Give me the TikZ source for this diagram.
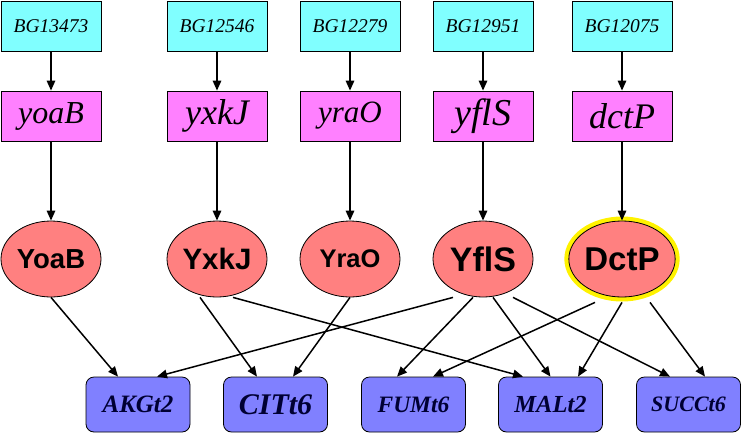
\documentclass[tikz,border=0pt]{standalone}
\usepackage{fontspec}
\setmainfont{Liberation Serif}
\setsansfont{Liberation Sans}
\usetikzlibrary{arrows.meta,shapes.geometric}
\definecolor{cy}{HTML}{80FFFF}
\definecolor{mg}{HTML}{FF80FF}
\definecolor{sa}{HTML}{FF8080}
\definecolor{bl}{HTML}{8080FF}
\definecolor{tx}{HTML}{000033}
\newcommand{\fs}[1]{\fontsize{#1}{#1}\selectfont}
\tikzset{
  bgbox/.style={draw=black, line width=0.8pt, fill=cy, minimum width=100pt, minimum height=50pt, inner sep=0pt, font=\fs{19.5}\itshape},
  genebox/.style={draw=black, line width=0.8pt, fill=mg, minimum width=100pt, minimum height=50pt, inner sep=0pt},
  prot/.style={ellipse, draw=black, line width=0.8pt, fill=sa, minimum width=100pt, minimum height=76pt, inner sep=0pt},
  rxn/.style={draw=black, line width=0.8pt, fill=bl, rounded corners=8pt, minimum width=104pt, minimum height=55pt, inner sep=0pt, text=tx},
  edge/.style={line width=1.5pt, -{Triangle[length=10pt,width=8.5pt]}},
}
\begin{document}
\begin{tikzpicture}[x=1pt,y=-1pt]
\useasboundingbox (0,0) rectangle (743,434);
% top boxes
\node[bgbox] (bg1) at (51,26) {BG13473};
\node[bgbox] (bg2) at (217,26) {BG12546};
\node[bgbox] (bg3) at (350,26) {BG12279};
\node[bgbox] (bg4) at (483,26) {BG12951};
\node[bgbox] (bg5) at (622,26) {BG12075};
% gene boxes
\node[genebox, font=\fs{32}\itshape] (g1) at (51,116) {yoaB};
\node[genebox, font=\fs{36}\itshape] (g2) at (217,116) {yxkJ};
\node[genebox, font=\fs{31}\itshape] (g3) at (350,116) {yraO};
\node[genebox, font=\fs{38}\itshape] (g4) at (483,116) {yflS};
\node[genebox, font=\fs{36}\itshape] (g5) at (622,116) {dctP};
% proteins
\node[prot, font=\fs{27.5}\sffamily\bfseries] (p1) at (51,259) {YoaB};
\node[prot, font=\fs{29.5}\sffamily\bfseries] (p2) at (217,259) {YxkJ};
\node[prot, font=\fs{25.5}\sffamily\bfseries] (p3) at (350,259) {YraO};
\node[prot, font=\fs{34}\sffamily\bfseries] (p4) at (483,259) {YflS};
\node[prot, font=\fs{33}\sffamily\bfseries, preaction={draw=yellow, line width=9pt}] (p5) at (622,259) {DctP};
% reactions
\node[rxn, font=\fs{25}\bfseries\itshape] (r1) at (138,404.5) {AKGt2};
\node[rxn, font=\fs{30}\bfseries\itshape] (r2) at (275.5,404.5) {CITt6};
\node[rxn, font=\fs{23.5}\bfseries\itshape] (r3) at (413.5,404.5) {FUMt6};
\node[rxn, font=\fs{24.5}\bfseries\itshape] (r4) at (550.5,404.5) {MALt2};
\node[rxn, font=\fs{22}\bfseries\itshape] (r5) at (688.5,404.5) {SUCCt6};
% vertical edges
\foreach \i in {1,...,5}{
  \draw[edge] (bg\i.south) -- (g\i.north);
  \draw[edge] (g\i.south) -- (p\i.north);
}
% lower edges
\draw[edge] (p1.south) -- ([xshift=-20pt]r1.north);
\draw[edge] ([xshift=-17pt]p2.south) -- ([xshift=-18.5pt]r2.north);
\draw[edge] ([xshift=16pt]p2.south) -- ([xshift=-27.5pt]r4.north);
\draw[edge] (p3.south) -- ([xshift=17.5pt]r2.north);
\draw[edge] ([xshift=-30pt]p4.south) -- ([xshift=19pt]r1.north);
\draw[edge] ([xshift=-10pt]p4.south) -- ([xshift=-16.5pt]r3.north);
\draw[edge] ([xshift=10pt]p4.south) -- (r4.north);
\draw[edge] ([xshift=30pt]p4.south) -- ([xshift=-18.5pt]r5.north);
\draw[edge] ([xshift=-27pt,yshift=-5pt]p5.south) -- ([xshift=19.5pt]r3.north);
\draw[edge] ([yshift=-5pt]p5.south) -- ([xshift=27.5pt]r4.north);
\draw[edge] ([xshift=28pt,yshift=-5pt]p5.south) -- ([xshift=16.5pt]r5.north);
\end{tikzpicture}
\end{document}
